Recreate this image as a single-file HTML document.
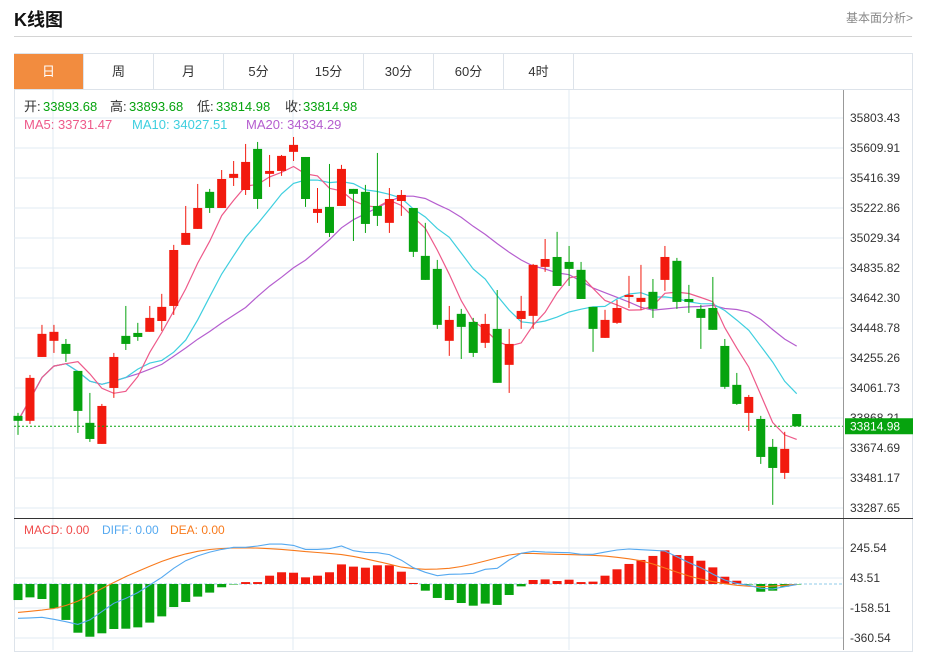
<!DOCTYPE html>
<html><head><meta charset="utf-8">
<style>
body{margin:0;background:#fff;width:928px;height:652px;overflow:hidden;font-family:"Liberation Sans","Noto Sans CJK SC",sans-serif;position:relative}
.abs{position:absolute}
#title{left:14px;top:6px;font-size:18px;font-weight:bold;color:#111}
#fund{left:846px;top:9px;font-size:12px;color:#888}
#hr{left:14px;top:36px;width:898px;height:1px;background:#d4d4d4}
#tabs{left:14px;top:53px;height:36px;display:flex;border-top:1px solid #dde3ea}
.tab{width:69px;height:35px;border-right:1px solid #dde3ea;text-align:center;line-height:35px;font-size:13px;color:#333}
.tab.on{background:#f28c3f;color:#fff}
svg{position:absolute;left:0;top:0}
</style></head><body>
<div class="abs" id="title">K线图</div>
<div class="abs" id="fund">基本面分析&gt;</div>
<div class="abs" id="hr"></div>
<svg id="chart" width="928" height="652"></svg>
<div class="abs" id="tabs">
<div class="tab on">日</div>
<div class="tab">周</div>
<div class="tab">月</div>
<div class="tab">5分</div>
<div class="tab">15分</div>
<div class="tab">30分</div>
<div class="tab">60分</div>
<div class="tab">4时</div>
</div>
<script>
const opens=[33882,33850,34262,34366,34346,34172,33837,33701,34062,34398,34417,34424,34494,34591,34985,35088,35327,35223,35417,35339,35604,35443,35462,35585,35552,35191,35230,35236,35346,35327,35236,35127,35268,35223,34914,34830,34366,34540,34488,34353,34443,34211,34507,34527,34843,34907,34875,34824,34585,34385,34482,34649,34617,34682,34759,34882,34636,34572,34578,34333,34082,33901,33862,33682,33514,33893.68];
const closes=[33850,34127,34411,34424,34282,33914,33733,33946,34262,34346,34391,34514,34585,34952,35062,35223,35223,35410,35443,35520,35281,35462,35559,35630,35281,35217,35062,35475,35314,35120,35172,35281,35307,34940,34759,34469,34501,34456,34288,34475,34095,34346,34559,34856,34894,34720,34830,34636,34443,34501,34578,34662,34643,34572,34907,34617,34617,34514,34437,34069,33959,34004,33617,33546,33669,33814.98];
const highs=[33901,34146,34469,34469,34378,34172,34030,33959,34288,34591,34482,34591,34669,34985,35236,35378,35346,35468,35526,35636,35649,35565,35565,35681,35552,35352,35507,35501,35346,35372,35578,35352,35339,35223,35127,34888,34591,34572,34514,34540,34694,34443,34656,34862,35023,35069,34978,34875,34585,34566,34630,34785,34856,34765,34978,34901,34727,34598,34778,34378,34159,34017,33882,33733,33779,33893.68];
const lows=[33759,33830,34262,34288,34230,33772,33714,33701,33998,34307,34366,34424,34430,34533,34985,35088,35191,35223,35365,35307,35217,35359,35430,35526,35230,35127,35036,35236,35010,35062,35107,35062,35172,34907,34759,34443,34269,34249,34262,34320,34095,34030,34443,34443,34811,34720,34720,34636,34295,34385,34475,34578,34566,34514,34688,34572,34546,34314,34437,34056,33953,33785,33572,33308,33475,33814.98];
const macdHist=[-108,-90,-101,-164,-242,-328,-355,-332,-303,-301,-292,-260,-218,-155,-121,-85,-58,-22,-3,13,13,56,79,76,45,56,79,132,117,110,126,126,83,7,-45,-94,-108,-128,-146,-132,-141,-74,-16,27,31,20,29,13,16,56,99,135,162,189,227,195,189,157,112,49,22,-2,-52,-45,-18,-2];
const diffVals=[-231,-228,-224,-238,-254,-272,-242,-186,-130,-97,-58,-7,45,106,157,189,215,233,247,247,256,269,269,260,233,233,238,256,224,213,211,198,160,110,79,56,65,67,72,99,106,162,207,220,215,213,211,200,200,215,229,236,231,227,222,184,144,110,67,27,4,-9,-29,-34,-18,-4];
const deaVals=[-191,-184,-176,-165,-145,-115,-75,-30,10,50,85,120,152,180,203,220,232,239,243,244,242,238,233,226,218,212,206,198,186,170,152,133,114,104,99,100,106,118,135,155,176,195,206,206,203,200,198,196,193,188,180,170,156,135,108,80,54,33,16,2,-9,-15,-18,-14,-9,-3];
const priceTicks=[35803.43,35609.91,35416.39,35222.86,35029.34,34835.82,34642.30,34448.78,34255.26,34061.73,33868.21,33674.69,33481.17,33287.65];
const macdTicks=[245.54,43.51,-158.51,-360.54];

const NS='http://www.w3.org/2000/svg';
const svg=document.getElementById('chart');
function el(tag,attrs,parent){const e=document.createElementNS(NS,tag);for(const k in attrs)e.setAttribute(k,attrs[k]);(parent||svg).appendChild(e);return e;}
const xAt=i=>18+i*11.98;
const yP=p=>118+(35803.43-p)/6.4507;
const yM=v=>584-v/6.734;
const RED='#f21a0e',GREEN='#06a30e',GRID='#e2ebf3';

// frame
let f=el('rect',{x:14.5,y:53.5,width:898,height:598,fill:'none',stroke:'#dde3ea'});


// grid
priceTicks.forEach((t,k)=>{
  const y=yP(t);
  const g=el('line',{x1:14,x2:843,y1:y,y2:y,stroke:GRID});
  
  
  const tx=el('text',{x:850,y:y+4,'font-size':12,fill:'#333'});
  tx.textContent=t.toFixed(2);
  
  
});
macdTicks.forEach(t=>{
  const y=Math.round(yM(t)/30)*0+ (t===245.54?548:t===43.51?578:t===-158.51?608:638);
  const g=el('line',{x1:14,x2:843,y1:y,y2:y,stroke:GRID});
  
  
  const tx=el('text',{x:850,y:y+4,'font-size':12,fill:'#333'});
  tx.textContent=t.toFixed(2);
  
  
});
[53,293,569].forEach(x=>{
  const v=el('line',{x1:x,x2:x,y1:90,y2:650,stroke:GRID});
  
  
});
let ax=el('line',{x1:843.5,x2:843.5,y1:90,y2:650,stroke:'#999'});


let sep=el('line',{x1:14,x2:913,y1:518.5,y2:518.5,stroke:'#333'});


let tabline=el('line',{x1:14,x2:913,y1:89.5,y2:89.5,stroke:'#dde3ea'});



// MA lines
function ma(n){return closes.map((c,i)=>{const s=closes.slice(Math.max(0,i-n+1),i+1);return s.reduce((a,b)=>a+b,0)/s.length;});}
[[20,'#b55ecf','ma20-line'],[10,'#3fcfdf','ma10-line'],[5,'#ee5a8a','ma5-line']].forEach(([n,c,name])=>{
  const pts=ma(n).map((v,i)=>xAt(i).toFixed(1)+','+yP(v).toFixed(1)).join(' ');
  const pl=el('polyline',{points:pts,fill:'none',stroke:c,'stroke-width':1.2});
  
  
});
// candles
closes.forEach((c,i)=>{
  const o=opens[i],up=c>=o,col=up?RED:GREEN,x=xAt(i);
  const w=el('line',{x1:x,x2:x,y1:yP(highs[i]),y2:yP(lows[i]),stroke:col,'stroke-width':1});
  
  
  const top=yP(Math.max(o,c)),bot=yP(Math.min(o,c));
  const r=el('rect',{x:x-4.5,y:top,width:9,height:Math.max(1,bot-top),fill:col});
  
  
});
// last price line
const lp=closes[closes.length-1];
let dl=el('line',{x1:14,x2:843,y1:yP(lp),y2:yP(lp),stroke:GREEN,'stroke-dasharray':'2,2'});


let lb=el('rect',{x:845,y:yP(lp)-8,width:68,height:16,fill:GREEN});


let lt=el('text',{x:850,y:yP(lp)+4,'font-size':12,fill:'#fff'});
lt.textContent=lp.toFixed(2);



// MACD
let zl=el('line',{x1:14,x2:843,y1:yM(0),y2:yM(0),stroke:'#8fcbe8','stroke-dasharray':'3,2'});


macdHist.forEach((v,i)=>{
  const y0=yM(0),y1=yM(v);
  const b=el('rect',{x:xAt(i)-4.5,y:Math.min(y0,y1),width:9,height:Math.max(0.5,Math.abs(y1-y0)),fill:v>=0?RED:GREEN});
  
  
});
[[deaVals,'#f87a1c','dea-line'],[diffVals,'#55a9f0','diff-line']].forEach(([arr,c,name])=>{
  const pts=arr.map((v,i)=>xAt(i).toFixed(1)+','+yM(v).toFixed(1)).join(' ');
  const pl=el('polyline',{points:pts,fill:'none',stroke:c,'stroke-width':1.1});
  
  
});

// legends
function txt(x,y,s,c,name,size){const t=el('text',{x:x,y:y,'font-size':size||13,fill:c,'font-family':'"Liberation Sans","Noto Sans CJK SC",sans-serif'});t.textContent=s;return t;}
txt(24,111,'开:','#333','open-label');txt(43,111,'33893.68',GREEN,'open-value');
txt(110,111,'高:','#333','high-label');txt(129,111,'33893.68',GREEN,'high-value');
txt(197,111,'低:','#333','low-label');txt(216,111,'33814.98',GREEN,'low-value');
txt(285,111,'收:','#333','close-label');txt(303,111,'33814.98',GREEN,'close-value');
txt(24,129,'MA5: 33731.47','#ee5a8a','ma5-legend');
txt(132,129,'MA10: 34027.51','#3fcfdf','ma10-legend');
txt(246,129,'MA20: 34334.29','#b55ecf','ma20-legend');
txt(24,534,'MACD: 0.00','#f04a4a','macd-legend',12);
txt(102,534,'DIFF: 0.00','#55a9f0','diff-legend',12);
txt(170,534,'DEA: 0.00','#f87a1c','dea-legend',12);
</script>
</body></html>
